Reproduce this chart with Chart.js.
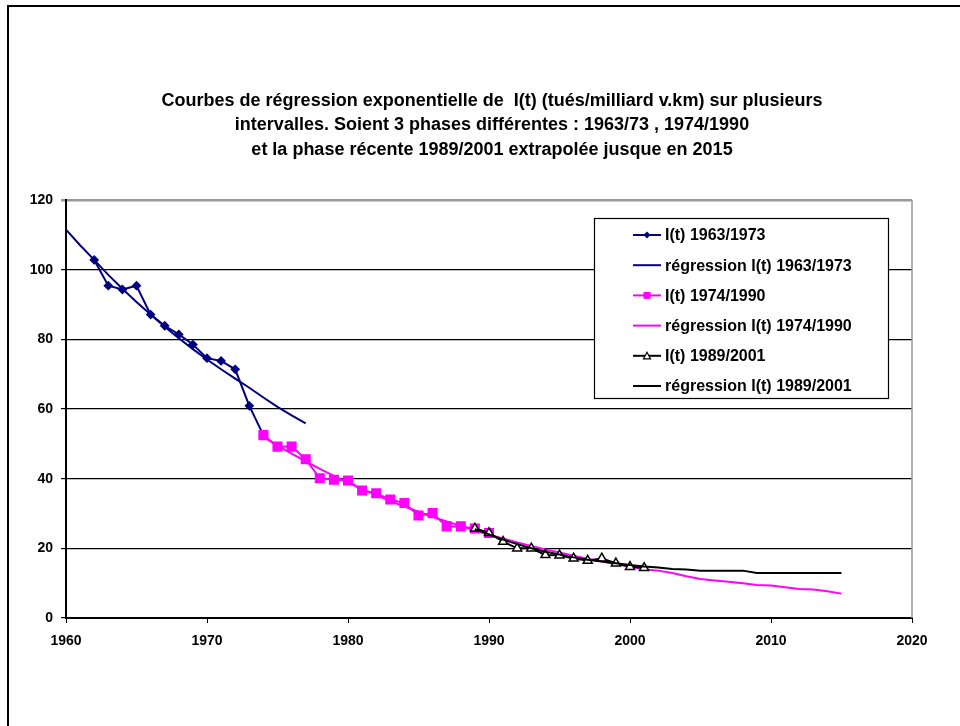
<!DOCTYPE html>
<html>
<head>
<meta charset="utf-8">
<script src="https://cdn.jsdelivr.net/npm/chart.js@4/dist/chart.umd.min.js"></script>
<style>
  body { margin: 0; background: #fff; }
  #wrap { width: 960px; height: 726px; }
</style>
</head>
<body>
<div id="wrap"><canvas id="chart" width="960" height="726"></canvas></div>
<script>
// Data
const years6373 = [1962, 1963, 1964, 1965, 1966, 1967, 1968, 1969, 1970, 1971, 1972, 1973, 1974];
const rate6373 = [102.8, 95.4, 94.3, 95.4, 87.1, 83.9, 81.4, 78.5, 74.6, 73.8, 71.4, 60.9, 52.5];

const regYears6373 = [1960, 1961, 1962, 1963, 1964, 1965, 1966, 1967, 1968, 1969, 1970, 1971, 1972, 1973, 1974, 1975, 1976, 1977];
const reg6373 = [111.5, 107, 102.8, 98.5, 94.5, 90.7, 87.1, 83.6, 80.3, 77.2, 74.2, 71.4, 68.7, 66.1, 63.3, 60.6, 58.2, 55.9];

const years7490 = [1974, 1975, 1976, 1977, 1978, 1979, 1980, 1981, 1982, 1983, 1984, 1985, 1986, 1987, 1988, 1989, 1990];
const rate7490 = [52.5, 49.2, 49.2, 45.6, 40.1, 39.7, 39.5, 36.6, 35.8, 34, 33, 29.4, 30.1, 26.3, 26.3, 25.7, 24.4];

const regYears7490 = [1974, 1975, 1976, 1977, 1978, 1979, 1980, 1981, 1982, 1983, 1984, 1985, 1986, 1987, 1988, 1989, 1990,
    1991, 1992, 1993, 1994, 1995, 1996, 1997, 1998, 1999, 2000, 2001, 2002, 2003, 2004, 2005, 2006, 2007, 2008, 2009,
    2010, 2011, 2012, 2013, 2014, 2015];
const reg7490 = [52, 49.5, 47.2, 45, 42.8, 40.8, 38.9, 37, 35.3, 33.6, 32, 30.5, 29, 27.7, 26.4, 25.1, 23.9,
    22.8, 21.7, 20.7, 19.7, 18.8, 17.9, 17, 16.2, 15.5, 14.7, 14, 13.6, 12.9, 12, 11.2, 10.8, 10.4, 10, 9.5,
    9.3, 8.8, 8.3, 8.2, 7.7, 7];

const years8901 = [1989, 1990, 1991, 1992, 1993, 1994, 1995, 1996, 1997, 1998, 1999, 2000, 2001];
const rate8901 = [25.7, 24.4, 21.9, 20, 20, 18.1, 18, 17.1, 16.5, 17.1, 15.7, 14.7, 14.4];

const regYears8901 = [1989, 1990, 1991, 1992, 1993, 1994, 1995, 1996, 1997, 1998, 1999, 2000, 2001, 2002, 2003, 2004,
    2005, 2006, 2007, 2008, 2009, 2010, 2011, 2012, 2013, 2014, 2015];
const reg8901 = [25.5, 24, 22.5, 21.2, 20, 19, 18.2, 17.4, 16.7, 16.2, 15.7, 15.2, 14.8, 14.5, 14.1, 13.9,
    13.6, 13.6, 13.6, 13.6, 12.9, 12.9, 12.9, 12.9, 12.9, 12.9, 12.9];

const seriesLabels = [
    'I(t) 1963/1973',
    'régression I(t) 1963/1973',
    'I(t) 1974/1990',
    'régression I(t) 1974/1990',
    'I(t) 1989/2001',
    'régression I(t) 1989/2001'
];

const titleLines = [
    'Courbes de régression exponentielle de  I(t) (tués/milliard v.km) sur plusieurs',
    'intervalles. Soient 3 phases différentes : 1963/73 , 1974/1990',
    'et la phase récente 1989/2001 extrapolée jusque en 2015'
];

const xTicks = [1960, 1970, 1980, 1990, 2000, 2010, 2020];
const yTicks = [0, 20, 40, 60, 80, 100, 120];

const navy = '#000080';
const magenta = '#FF00FF';
const black = '#000000';
const font = 'Arial, "Liberation Sans", sans-serif';

function pts(xs, ys) {
    return xs.map((x, i) => ({ x: x, y: ys[i] }));
}

// legend marker helper
function marker(ctx, style, x, y, color) {
    ctx.save();
    ctx.fillStyle = color;
    ctx.strokeStyle = color;
    if (style === 'rectRot') {
        ctx.beginPath();
        ctx.moveTo(x, y - 3.5);
        ctx.lineTo(x + 3.5, y);
        ctx.lineTo(x, y + 3.5);
        ctx.lineTo(x - 3.5, y);
        ctx.closePath();
        ctx.fill();
    } else if (style === 'rect') {
        ctx.fillRect(x - 3.5, y - 3.5, 7, 7);
    } else if (style === 'triangle') {
        ctx.beginPath();
        ctx.moveTo(x, y - 3.5);
        ctx.lineTo(x + 3.5, y + 3);
        ctx.lineTo(x - 3.5, y + 3);
        ctx.closePath();
        ctx.fillStyle = '#fff';
        ctx.fill();
        ctx.lineWidth = 1.2;
        ctx.stroke();
    }
    ctx.restore();
}

const decorPlugin = {
    id: 'decor',
    beforeDraw(chart) {
        const ctx = chart.ctx;
        ctx.save();
        ctx.fillStyle = '#fff';
        ctx.fillRect(0, 0, chart.width, chart.height);
        ctx.strokeStyle = '#000';
        ctx.lineWidth = 2;
        ctx.strokeRect(8, 6, 1000, 1000);
        ctx.restore();
    },
    afterDraw(chart) {
        const ctx = chart.ctx;
        const a = chart.chartArea;
        ctx.save();
        // plot area right edge
        ctx.strokeStyle = '#999';
        ctx.lineWidth = 1.5;
        ctx.beginPath();
        ctx.moveTo(a.right, a.top);
        ctx.lineTo(a.right, a.bottom);
        ctx.stroke();

        // title
        ctx.fillStyle = '#000';
        ctx.font = 'bold 18px ' + font;
        ctx.textAlign = 'center';
        ctx.textBaseline = 'middle';
        titleLines.forEach((t, i) => ctx.fillText(t, 492, 101 + i * 24.5));

        // legend
        ctx.fillStyle = '#fff';
        ctx.fillRect(594, 218, 294, 180);
        ctx.strokeStyle = '#000';
        ctx.lineWidth = 1.2;
        ctx.strokeRect(594.5, 218.5, 294, 180);
        ctx.font = 'bold 16px ' + font;
        ctx.textAlign = 'left';
        chart.data.datasets.forEach((ds, i) => {
            const y = 235 + i * 30.2;
            ctx.strokeStyle = ds.borderColor;
            ctx.lineWidth = 2;
            ctx.beginPath();
            ctx.moveTo(633, y);
            ctx.lineTo(661, y);
            ctx.stroke();
            if (ds.pointRadius > 0) marker(ctx, ds.pointStyle, 647, y, ds.borderColor);
            ctx.fillStyle = '#000';
            ctx.fillText(ds.label, 665, y + 1);
        });
        ctx.restore();
    }
};

const ctx = document.getElementById('chart').getContext('2d');
new Chart(ctx, {
    type: 'line',
    data: {
        datasets: [
            {
                label: seriesLabels[0],
                data: pts(years6373, rate6373),
                borderColor: navy,
                backgroundColor: navy,
                borderWidth: 2,
                pointStyle: 'rectRot',
                pointRadius: 3.5,
                order: 6
            },
            {
                label: seriesLabels[1],
                data: pts(regYears6373, reg6373),
                borderColor: navy,
                borderWidth: 2,
                pointRadius: 0,
                order: 5
            },
            {
                label: seriesLabels[2],
                data: pts(years7490, rate7490),
                borderColor: magenta,
                backgroundColor: magenta,
                borderWidth: 2,
                pointStyle: 'rect',
                pointRadius: 5.7,
                order: 4
            },
            {
                label: seriesLabels[3],
                data: pts(regYears7490, reg7490),
                borderColor: magenta,
                borderWidth: 2,
                pointRadius: 0,
                order: 3
            },
            {
                label: seriesLabels[4],
                data: pts(years8901, rate8901),
                borderColor: black,
                backgroundColor: '#fff',
                borderWidth: 2,
                pointStyle: 'triangle',
                pointRadius: 5.2,
                pointBorderWidth: 1.5,
                order: 2
            },
            {
                label: seriesLabels[5],
                data: pts(regYears8901, reg8901),
                borderColor: black,
                borderWidth: 2,
                pointRadius: 0,
                order: 1
            }
        ]
    },
    options: {
        responsive: false,
        animation: false,
        layout: {
            padding: { top: 200, left: 0, right: 48, bottom: 0 }
        },
        plugins: {
            legend: { display: false },
            title: { display: false },
            tooltip: { enabled: false }
        },
        scales: {
            x: {
                type: 'linear',
                min: 1960,
                max: 2020,
                afterBuildTicks: function(scale) {
                    scale.ticks = xTicks.map(v => ({ value: v }));
                },
                afterFit: function(scale) {
                    scale.height = 108;
                },
                ticks: {
                    color: '#000',
                    padding: 10,
                    maxRotation: 0,
                    font: { family: font, size: 14, weight: 'bold' },
                    callback: function(value) {
                        return String(value);
                    }
                },
                grid: {
                    drawOnChartArea: false,
                    drawTicks: true,
                    tickLength: 5,
                    color: '#000'
                },
                border: { color: '#000', width: 2 }
            },
            y: {
                type: 'linear',
                min: 0,
                max: 120,
                afterBuildTicks: function(scale) {
                    scale.ticks = yTicks.map(v => ({ value: v }));
                },
                afterFit: function(scale) {
                    scale.width = 66;
                },
                ticks: {
                    color: '#000',
                    padding: 8,
                    font: { family: font, size: 14, weight: 'bold' }
                },
                grid: {
                    drawTicks: true,
                    tickLength: 5,
                    color: function(c) {
                        return c.tick && c.tick.value === 120 ? '#999' : '#000';
                    },
                    lineWidth: function(c) {
                        return c.tick && c.tick.value === 120 ? 2.5 : 1.2;
                    }
                },
                border: { color: '#000', width: 2 }
            }
        }
    },
    plugins: [decorPlugin]
});
</script>
</body>
</html>
